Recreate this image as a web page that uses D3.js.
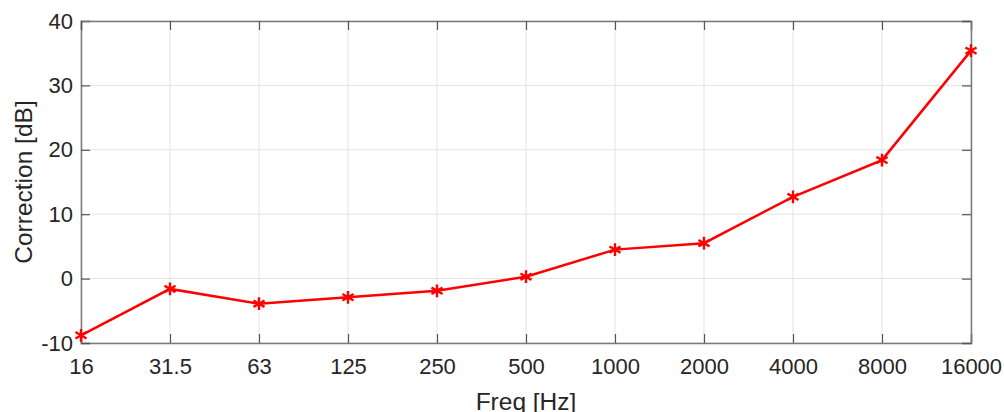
<!DOCTYPE html>
<html>
<head>
<meta charset="utf-8">
<script src="https://cdn.jsdelivr.net/npm/d3@7"></script>
<style>
  body { margin: 0; background: #fff; }
  text { font-family: "Liberation Sans", Arial, sans-serif; fill: #262626; }
</style>
</head>
<body>
<div id="chart"></div>
<script>
// frequency bands (x categories) and correction values
var freqs = ["16", "31.5", "63", "125", "250", "500", "1000", "2000", "4000", "8000", "16000"];
var correction = [-8.8, -1.6, -3.9, -2.9, -1.9, 0.3, 4.5, 5.5, 12.7, 18.4, 35.4];
var yTicks = [-10, 0, 10, 20, 30, 40];

var W = 1004, H = 412;
var margin = { top: 21, left: 81, right: 33, bottom: 69 };
var width = W - margin.left - margin.right;
var height = H - margin.top - margin.bottom;

var svg = d3.select("#chart").append("svg")
    .attr("width", W).attr("height", H)
    .append("g")
    .attr("transform", "translate(" + margin.left + "," + margin.top + ")");

var x = d3.scalePoint().domain(freqs).range([0, width]);
var y = d3.scaleLinear().domain([-10, 40]).range([height, 0]);

// grid
svg.append("g").selectAll("line").data(freqs).enter().append("line")
    .attr("x1", d => x(d)).attr("x2", d => x(d))
    .attr("y1", 0).attr("y2", height)
    .attr("stroke", "#e3e3e3").attr("stroke-width", 1);
svg.append("g").selectAll("line").data(yTicks).enter().append("line")
    .attr("x1", 0).attr("x2", width)
    .attr("y1", d => y(d)).attr("y2", d => y(d))
    .attr("stroke", "#e3e3e3").attr("stroke-width", 1);

// axes (ticks point inward, box on)
var tk = 9;
var xAxis = d3.axisBottom(x).tickSize(-tk).tickPadding(15);
var yAxis = d3.axisLeft(y).tickValues(yTicks).tickSize(-tk).tickPadding(8)
    .tickFormat(d => String(d)); // plain hyphen minus like matlab

var gx = svg.append("g").attr("transform", "translate(0," + height + ")").call(xAxis);
var gy = svg.append("g").call(yAxis);
var gxTop = svg.append("g").call(d3.axisTop(x).tickSize(-tk).tickFormat(""));
var gyRight = svg.append("g").attr("transform", "translate(" + width + ",0)")
    .call(d3.axisRight(y).tickValues(yTicks).tickSize(-tk).tickFormat(""));

[gx, gy, gxTop, gyRight].forEach(g => {
    g.select(".domain").attr("stroke", "#7a7a7a").attr("stroke-width", 1.5);
    g.selectAll(".tick line").attr("stroke", "#555").attr("stroke-width", 1.2);
    g.selectAll(".tick text").style("font-size", "22px").attr("fill", "#303030");
});

// line + asterisk markers
var line = d3.line()
    .x((d, i) => x(freqs[i]))
    .y(d => y(d));

svg.append("path")
    .datum(correction)
    .attr("d", line)
    .attr("fill", "none")
    .attr("stroke", "#ff0000")
    .attr("stroke-width", 2.5);

var star = d3.symbol().type(d3.symbolAsterisk).size(115);
svg.selectAll(".marker").data(correction).enter().append("path")
    .attr("class", "marker")
    .attr("transform", (d, i) => "translate(" + x(freqs[i]) + "," + y(d) + ")")
    .attr("d", star)
    .attr("fill", "none")
    .attr("stroke", "#ff0000")
    .attr("stroke-width", 2.4);

// axis labels
svg.append("text")
    .attr("x", width / 2).attr("y", height + 66.5)
    .attr("text-anchor", "middle")
    .style("font-size", "24.5px")
    .attr("fill", "#303030")
    .text("Freq [Hz]");

svg.append("text")
    .attr("transform", "translate(" + (-49) + "," + (height / 2) + ") rotate(-90)")
    .attr("text-anchor", "middle")
    .style("font-size", "24.5px")
    .attr("fill", "#303030")
    .text("Correction [dB]");
</script>
</body>
</html>
